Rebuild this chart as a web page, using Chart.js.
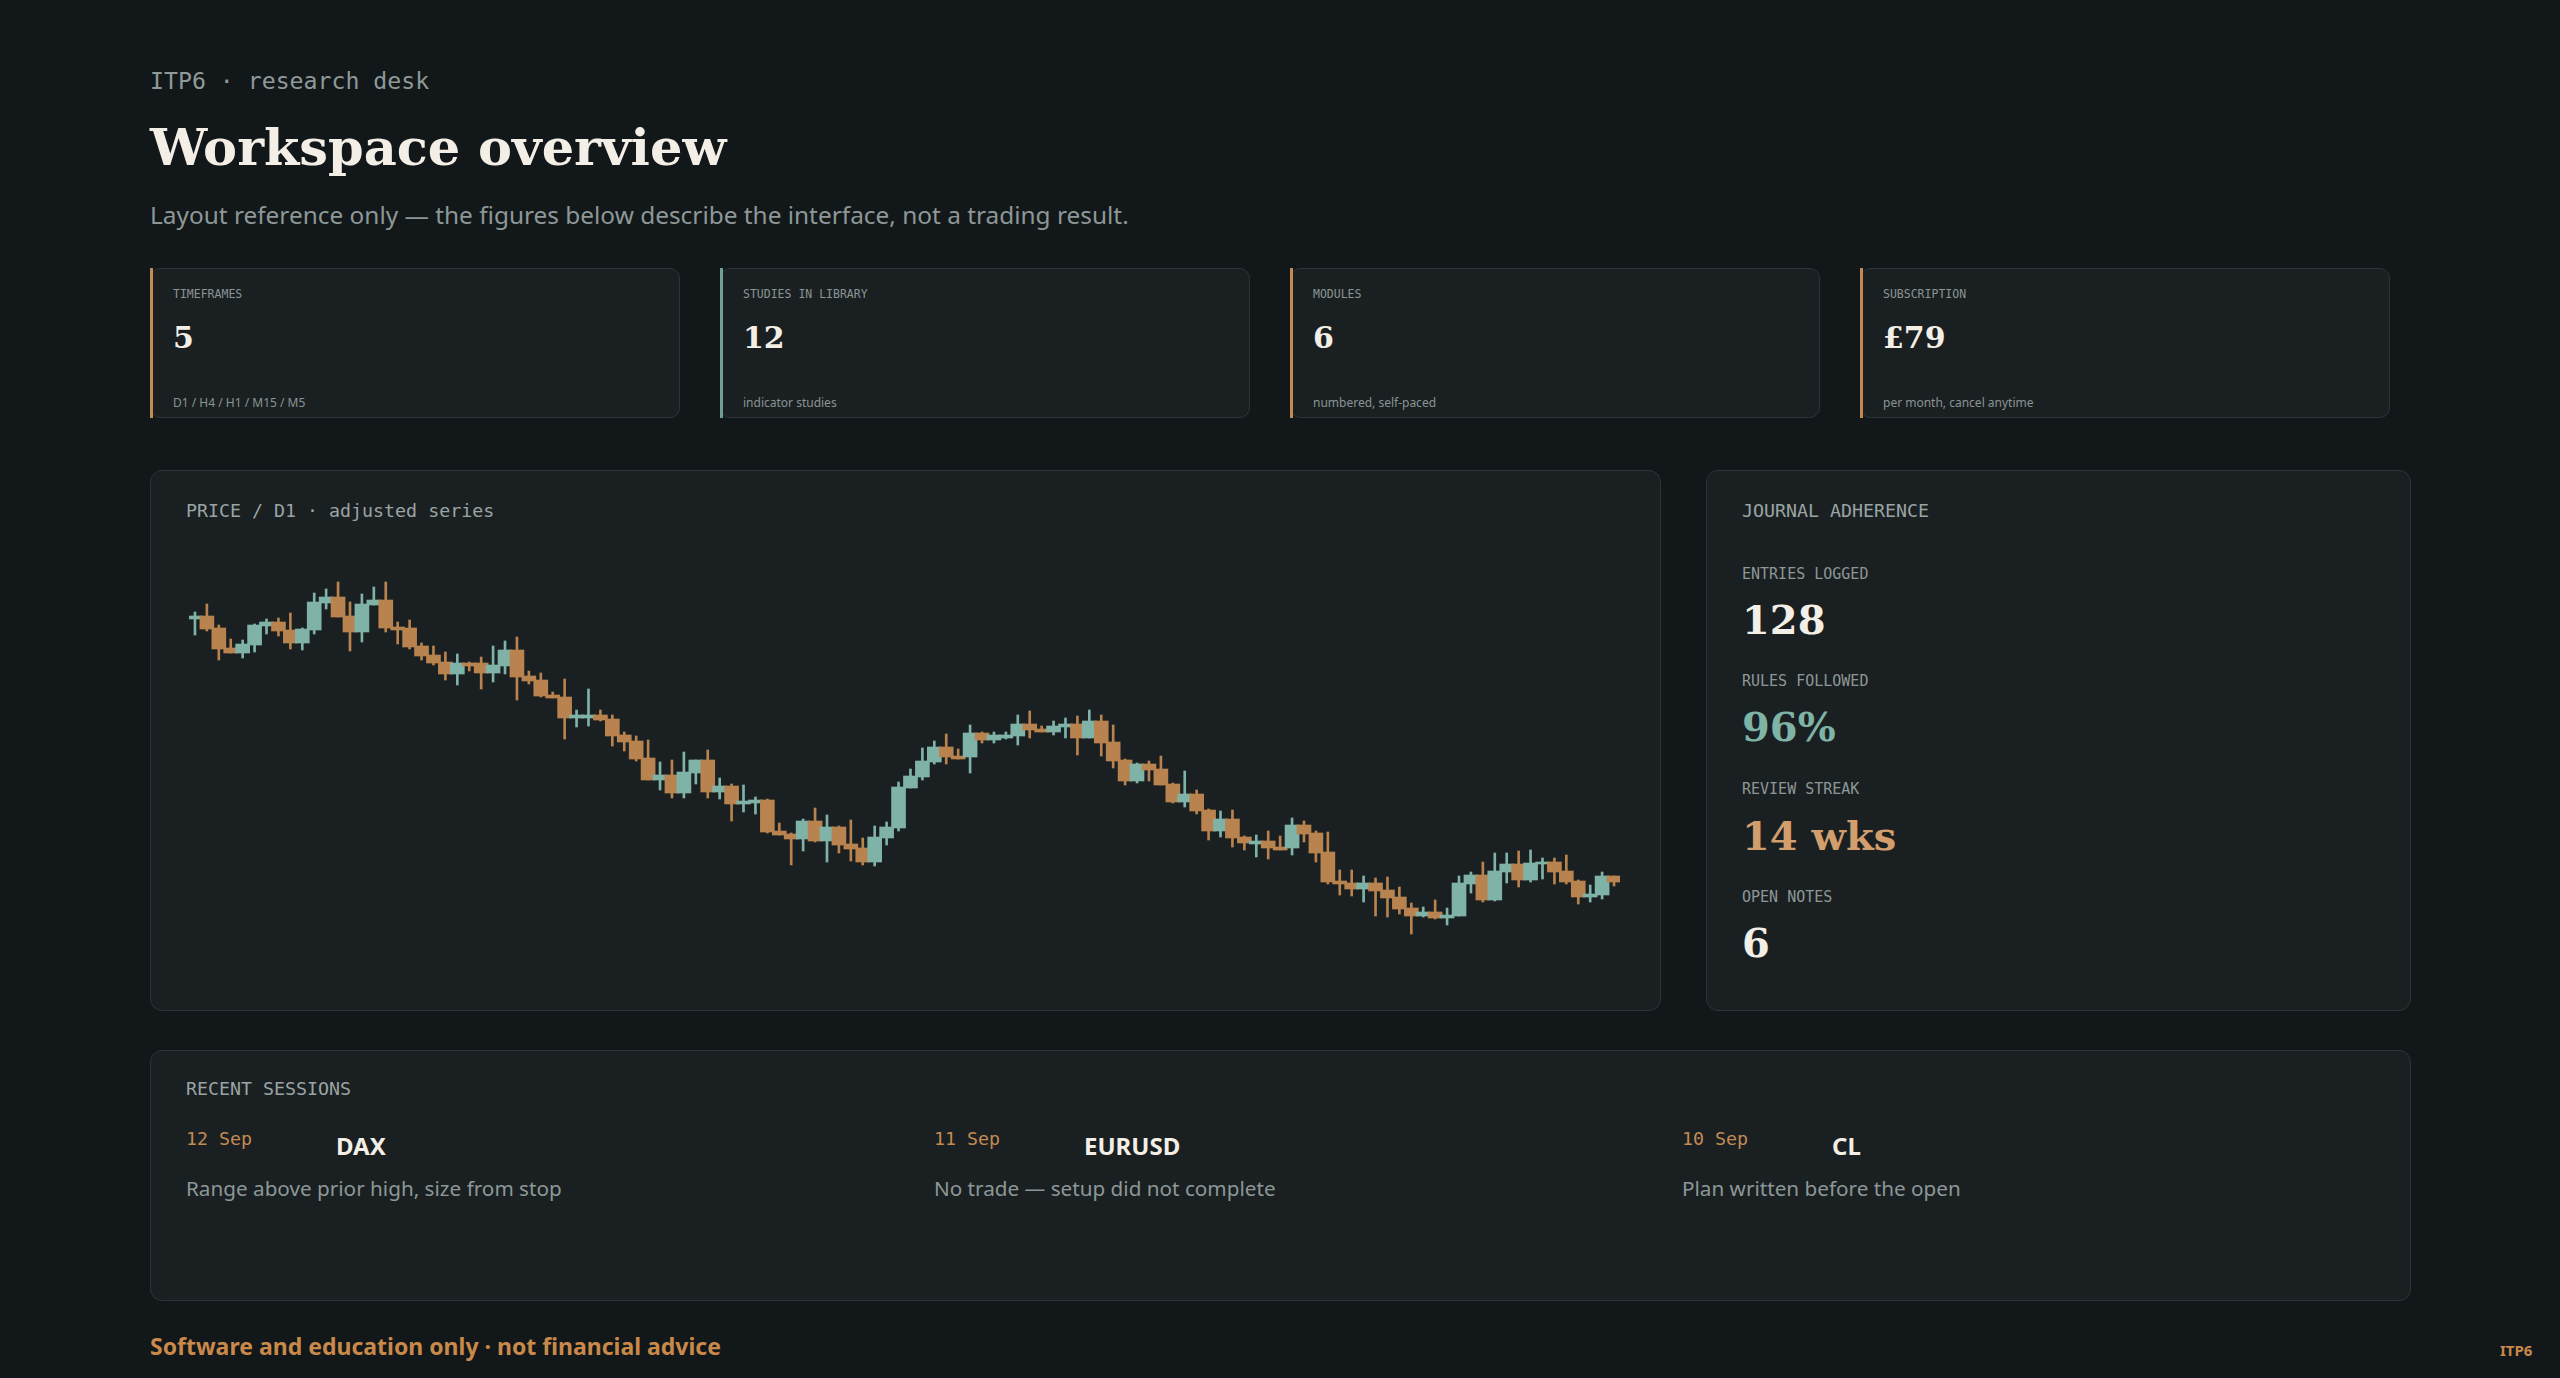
<!DOCTYPE html>
<html>
<head>
<meta charset="utf-8">
<script src="https://cdn.jsdelivr.net/npm/chart.js@4.4.1/dist/chart.umd.min.js"></script>
<style>
  html, body { margin: 0; padding: 0; }
  body { width: 2560px; height: 1378px; background: #121719; position: relative; overflow: hidden;
         font-family: "Noto Sans", "Open Sans", sans-serif; color: #f3efe6; }
  .abs { position: absolute; white-space: nowrap; line-height: 1; }
  .mono { font-family: "DejaVu Sans Mono", "Liberation Mono", monospace; }
  .serif { font-family: Georgia, "DejaVu Serif", serif; font-weight: 700; }
  .panel { position: absolute; background: #1a2022; border: 1px solid #2c3538; border-radius: 12px; box-sizing: border-box; }
  .card { position: absolute; background: #1a2022; border: 1px solid #2c3538; border-radius: 10px; box-sizing: border-box; top: 268px; width: 530px; height: 150px; }
  .card .bar { position: absolute; left: -1px; top: -1px; bottom: -1px; width: 3px; }
  .card .lab { position: absolute; left: 22px; top: 20px; font-size: 11.5px; color: #8a9494; line-height: 1; }
  .card .val { position: absolute; left: 22px; top: 54px; font-size: 30px; color: #f3efe6; line-height: 1; }
  .card .foot { position: absolute; left: 22px; top: 128px; font-size: 12px; color: #8a9494; line-height: 1; }
  .rlab { font-size: 15px; color: #8d9797; }
  .rval { font-size: 40px; }
  .h18 { font-size: 18.3px; color: #9aa4a4; }
</style>
</head>
<body>
<div class="abs mono" style="left:150px; top:69px; font-size:23.2px; color:#8f9999;">ITP6 · research desk</div>
<div class="abs serif" style="left:150px; top:122px; font-size:51px;">Workspace overview</div>
<div class="abs" style="left:150px; top:203px; font-size:24.4px; color:#8d9797;">Layout reference only — the figures below describe the interface, not a trading result.</div>

<div class="card" style="left:150px;"><div class="bar" style="background:#c48a52;"></div><div class="lab mono">TIMEFRAMES</div><div class="val serif">5</div><div class="foot">D1 / H4 / H1 / M15 / M5</div></div>
<div class="card" style="left:720px;"><div class="bar" style="background:#6f9f95;"></div><div class="lab mono">STUDIES IN LIBRARY</div><div class="val serif">12</div><div class="foot">indicator studies</div></div>
<div class="card" style="left:1290px;"><div class="bar" style="background:#c48a52;"></div><div class="lab mono">MODULES</div><div class="val serif">6</div><div class="foot">numbered, self-paced</div></div>
<div class="card" style="left:1860px;"><div class="bar" style="background:#c48a52;"></div><div class="lab mono">SUBSCRIPTION</div><div class="val serif">£79</div><div class="foot">per month, cancel anytime</div></div>

<div class="panel" style="left:150px; top:470px; width:1511px; height:541px;"></div>
<div class="abs mono h18" style="left:186px; top:502px;">PRICE / D1 · adjusted series</div>
<div style="position:absolute; left:189px; top:560px; width:1431px; height:400px;"><canvas id="c" width="1431" height="400"></canvas></div>

<div class="panel" style="left:1706px; top:470px; width:705px; height:541px;"></div>
<div class="abs mono h18" style="left:1742px; top:502px;">JOURNAL ADHERENCE</div>
<div class="abs mono rlab" style="left:1742px; top:567px;">ENTRIES LOGGED</div>
<div class="abs serif rval" style="left:1742px; top:600px; color:#f3efe6;">128</div>
<div class="abs mono rlab" style="left:1742px; top:674px;">RULES FOLLOWED</div>
<div class="abs serif rval" style="left:1742px; top:707px; color:#7fb3a6;">96%</div>
<div class="abs mono rlab" style="left:1742px; top:782px;">REVIEW STREAK</div>
<div class="abs serif rval" style="left:1742px; top:816px; color:#d19e6c;">14 wks</div>
<div class="abs mono rlab" style="left:1742px; top:890px;">OPEN NOTES</div>
<div class="abs serif rval" style="left:1742px; top:923px; color:#f3efe6;">6</div>

<div class="panel" style="left:150px; top:1050px; width:2261px; height:251px;"></div>
<div class="abs mono h18" style="left:186px; top:1080px;">RECENT SESSIONS</div>
<div id="sessions"></div>

<div class="abs" style="left:150px; top:1335px; font-size:23px; font-weight:700; color:#c8894a;">Software and education only · not financial advice</div>
<div class="abs" style="left:2500px; top:1343px; font-size:15px; font-weight:700; color:#c8894a;">ITP6</div>

<script>
// ---- data ----
const open = [138.1,138.4,137.2,135.2,134.7,135.5,137.4,137.8,137.0,135.7,
  137.0,139.7,140.3,138.4,136.8,139.5,140.0,137.3,137.2,135.4,
  134.5,133.8,132.6,133.7,133.7,132.7,133.4,135.0,132.4,132.0,
  130.5,130.3,128.2,128.2,128.5,128.1,126.5,125.9,124.2,122.0,
  122.5,120.7,122.7,124.0,120.8,121.4,119.6,119.7,120.0,116.9,
  116.6,116.1,117.9,115.9,117.3,115.6,115.2,113.8,116.2,117.2,
  121.2,122.3,123.8,125.3,124.4,124.3,126.7,126.0,126.2,126.4,
  127.6,127.1,126.8,127.3,127.6,126.2,127.9,125.8,124.0,121.9,
  123.6,123.1,121.6,119.8,120.6,119.0,116.9,118.1,116.3,115.6,
  115.9,115.3,115.2,117.5,116.7,114.8,111.9,111.7,111.1,111.7,
  111.0,110.3,109.2,108.4,108.8,108.2,108.4,111.6,112.5,110.0,
  112.8,113.6,112.0,113.6,113.8,112.9,111.9,110.3,110.5,112.4];
const high = [138.8,139.6,137.5,136.1,136.0,137.6,138.1,138.2,138.7,137.2,
  140.7,141.1,141.8,139.8,140.6,141.3,141.8,137.8,138.0,135.7,
  135.4,134.8,134.6,133.8,134.3,135.4,135.9,136.3,132.9,132.7,
  130.8,132.1,129.0,131.1,129.0,128.5,126.8,126.4,126.0,123.8,
  124.0,124.8,124.0,125.0,122.2,121.6,121.5,120.3,120.1,117.7,
  116.7,118.1,119.2,118.5,117.4,118.0,116.2,117.4,117.8,121.8,
  123.1,125.2,125.9,126.6,125.1,127.5,126.8,126.8,126.8,128.5,
  128.9,127.4,127.9,128.2,128.4,129.0,128.5,127.5,124.1,123.7,
  123.9,124.4,121.7,122.9,121.0,119.1,118.9,119.0,116.4,116.5,
  116.9,116.4,118.2,117.9,116.9,116.8,113.0,113.0,112.4,112.2,
  112.3,111.3,109.7,109.3,110.0,109.2,112.4,112.8,113.8,114.7,
  114.7,114.9,115.0,114.2,114.2,114.5,112.0,111.5,112.8,112.4];
const low = [136.5,136.9,134.0,134.7,134.2,134.8,136.6,136.4,135.1,135.0,
  136.6,139.1,138.3,134.9,135.8,139.5,136.8,135.6,135.1,134.0,
  133.5,132.0,131.5,132.9,131.1,131.8,132.6,130.0,131.6,130.3,
  130.2,126.1,127.3,127.4,127.9,125.4,124.9,123.9,122.0,121.0,
  120.2,120.2,121.6,120.2,120.1,117.9,118.8,118.6,116.7,116.5,
  113.5,114.9,115.8,113.8,114.7,113.9,113.5,113.4,115.5,116.9,
  121.2,122.0,123.6,123.6,124.1,122.7,125.7,125.7,126.1,125.5,
  126.2,126.8,126.5,126.2,124.5,126.2,124.4,123.2,121.5,121.7,
  121.9,121.5,119.7,119.3,118.6,116.0,116.3,115.3,115.0,114.3,
  114.1,115.0,114.5,115.8,113.8,111.6,110.5,110.4,109.8,108.4,
  108.3,108.6,106.6,108.3,108.1,107.5,108.4,110.7,109.8,109.9,
  111.7,111.3,111.8,112.1,111.6,111.6,109.6,109.8,110.1,111.4];
const close = [138.4,137.1,135.1,134.7,135.6,137.5,137.8,136.9,135.7,137.1,
  139.8,140.3,138.3,136.8,139.6,140.0,137.2,137.0,135.3,134.4,
  133.7,132.6,133.7,133.4,132.7,133.5,135.0,132.3,131.9,130.4,
  130.2,128.2,128.5,128.5,128.0,126.4,125.8,124.1,122.0,122.5,
  120.7,122.8,124.0,120.8,121.4,119.6,119.9,120.0,116.8,116.5,
  116.1,117.9,115.9,117.3,115.5,115.1,113.8,116.3,117.3,121.3,
  122.4,123.9,125.3,124.3,124.1,126.7,126.0,126.5,126.5,127.6,
  127.0,126.8,127.4,127.6,126.2,127.9,125.7,123.9,121.9,123.6,
  123.0,121.5,119.8,120.6,118.9,116.9,118.1,116.2,115.7,115.9,
  115.2,115.0,117.5,116.6,114.7,111.8,111.6,111.1,111.7,110.9,
  110.2,109.1,108.4,108.8,108.2,108.5,111.7,112.5,110.0,112.9,
  113.6,112.0,113.7,113.8,112.8,111.8,110.3,110.6,112.4,111.8];
const days = open.map((_, i) => 'D' + (i + 1));

const sessionDates = ['12 Sep', '11 Sep', '10 Sep'];
const sessionSymbols = ['DAX', 'EURUSD', 'CL'];
const sessionNotes = ['Range above prior high, size from stop', 'No trade — setup did not complete', 'Plan written before the open'];

// ---- sessions ----
const sessEl = document.getElementById('sessions');
const colX = [186, 934, 1682];
sessionDates.forEach((d, i) => {
  sessEl.insertAdjacentHTML('beforeend',
    `<div class="abs mono" style="left:${colX[i]}px; top:1130px; font-size:18.3px; color:#c48a52;">${d}</div>` +
    `<div class="abs" style="left:${colX[i] + 150}px; top:1134px; font-size:24px; font-weight:700; color:#f3efe6;">${sessionSymbols[i]}</div>` +
    `<div class="abs" style="left:${colX[i]}px; top:1178px; font-size:20.7px; color:#8d9797;">${sessionNotes[i]}</div>`);
});

// ---- candlestick chart ----
const UP = '#7fb3a8', DOWN = '#b8834e';
const colors = close.map((c, i) => c >= open[i] ? UP : DOWN);

new Chart(document.getElementById('c'), {
  type: 'bar',
  data: {
    labels: days,
    datasets: [
      { label: 'body', data: open.map((o, i) => [o, close[i]]), backgroundColor: colors,
        barThickness: 14, grouped: false, order: 0, borderWidth: 0, minBarLength: 2 },
      { label: 'wick', data: low.map((l, i) => [l, high[i]]), backgroundColor: colors,
        barThickness: 2, grouped: false, order: 1, borderWidth: 0 }
    ]
  },
  options: {
    responsive: false,
    animation: false,
    devicePixelRatio: 1,
    layout: { padding: 0 },
    plugins: { legend: { display: false }, tooltip: { enabled: false } },
    scales: {
      x: { display: false, offset: true },
      y: { display: false, min: 104, max: 144 }
    }
  }
});
</script>
</body>
</html>
